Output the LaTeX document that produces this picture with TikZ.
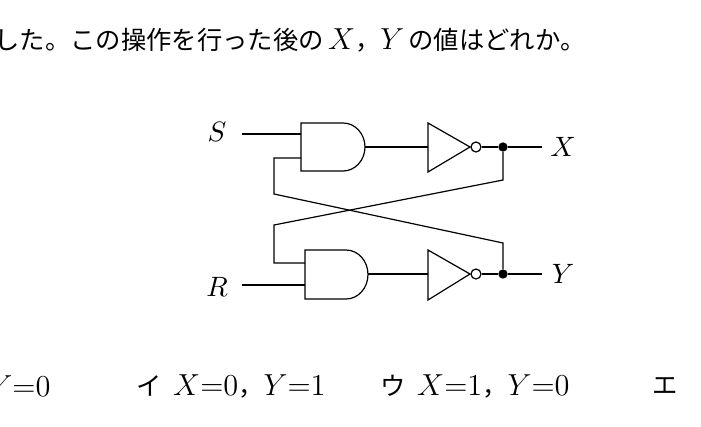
\documentclass[tikz,border=0pt]{standalone}
\usepackage{fontspec}
\newfontfamily\cjk{Noto Sans CJK JP}
\usetikzlibrary{positioning}
\tikzset{
  lbl/.style={inner sep=0.75pt,scale=2.1},
  txt/.style={anchor=west,inner sep=0pt,scale=1.9,font=\cjk},
  wire/.style={line width=0.9pt},
  dot/.style={circle,fill,inner sep=0pt,minimum size=7pt},
}
\newcommand{\mth}[1]{{\large$#1$}}
\begin{document}
\begin{tikzpicture}[x=0.75pt,y=0.75pt,yscale=-1,xscale=1]
\useasboundingbox (0,0) rectangle (701,426);

% text lines
\node[txt] (q) at (-6,40) {した。この操作を行った後の\,\mth{X}，\mth{Y}\,の値はどれか。};
\node[txt] (a) at (-12,386) {\mth{Y{=}0}};
\node[txt] (b) at (136,386) {イ\ \ \mth{X{=}0}，\mth{Y{=}1}};
\node[txt] (c) at (380,386) {ウ\ \ \mth{X{=}1}，\mth{Y{=}0}};
\node[txt] (d) at (652,386) {エ};

% AND gates
\draw[wire] (301,123) -- (343,123) arc[start angle=-90,end angle=90,x radius=22,y radius=24] -- (301,171) -- cycle;
\draw[wire] (305,250) -- (346,250) arc[start angle=-90,end angle=90,x radius=22,y radius=24.5] -- (305,299) -- cycle;
\coordinate (g1o) at (365,147);
\coordinate (g2o) at (368,274);

% NOT gates
\draw[wire] (428,123) -- (470,147) -- (428,172) -- cycle;
\draw[wire] (428,250) -- (470,274) -- (428,300) -- cycle;
\node[draw,circle,wire,inner sep=0pt,minimum size=7.5pt] (b1) at (476,147) {};
\node[draw,circle,wire,inner sep=0pt,minimum size=7.5pt] (b2) at (476,274) {};
\node[dot] (n1) at (503,147) {};
\node[dot] (n2) at (503,274) {};

% labels
\node[lbl] (S) at (217,132) {$S$};
\node[lbl] (R) at (217,287) {$R$};
\node[lbl] (X) at (563,147) {$X$};
\node[lbl] (Y) at (563,274) {$Y$};
\coordinate (x1) at (542,147);
\coordinate (y1) at (542,274);

% wires
\draw[wire] (242,134) -- (301,134);
\draw[wire] (242,285) -- (305,285);
\draw[wire] (g1o) -- (428,147);
\draw[wire] (g2o) -- (428,274);
\draw[wire] (b1) -- (n1) -- (x1);
\draw[wire] (b2) -- (n2) -- (y1);
\draw[wire] (301,158) -- (274,158) -- (274,194) -- (503,243) -- (n2);
\draw[wire] (305,263) -- (274,263) -- (274,225) -- (503,180) -- (n1);
\end{tikzpicture}
\end{document}
